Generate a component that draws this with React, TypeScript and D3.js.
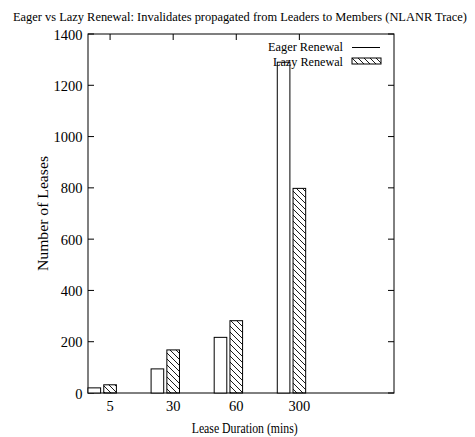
import React from "react";
import * as d3 from "d3";

const categories = ["5", "30", "60", "300"];
const eagerValues = [20, 94, 217, 1290];
const lazyValues = [32, 168, 282, 798];
const yTicks = [0, 200, 400, 600, 800, 1000, 1200, 1400];

const W = 475;
const H = 437;
const margin = { left: 88, right: 81, top: 34, bottom: 44 };
const FONT = "'Liberation Serif', 'Times New Roman', serif";

export default function App() {
  const x0 = margin.left;
  const x1 = W - margin.right;
  const y0 = H - margin.bottom;
  const y1 = margin.top;

  const x = d3.scaleLinear().domain([-0.35, 4.5]).range([x0, x1]);
  const y = d3.scaleLinear().domain([0, 1400]).range([y0, y1]);
  const barW = x(0.2) - x(0);
  const tickLen = 6;

  return (
    <svg width={W} height={H} style={{ position: "absolute", left: 0, top: 0, background: "#fff" }}>
      <defs>
        <pattern id="hatch" patternUnits="userSpaceOnUse" width={6} height={6}>
          <path d="M0,0 L6,6 M-1,5 L1,7 M5,-1 L7,1" stroke="#000" strokeWidth={0.9} />
        </pattern>
      </defs>
      <text
        x={240}
        y={20.5}
        textAnchor="middle"
        fontFamily={FONT}
        fontSize={12.3}
        textLength={454}
        lengthAdjust="spacingAndGlyphs"
        fill="#000"
      >
        Eager vs Lazy Renewal: Invalidates propagated from Leaders to Members (NLANR Trace)
      </text>

      {/* frame */}
      <rect x={x0} y={y1} width={x1 - x0} height={y0 - y1} fill="none" stroke="#000" strokeWidth={1} />

      {/* y ticks, left and right mirrored */}
      {yTicks.map((t) => (
        <g key={t}>
          <line x1={x0} x2={x0 + tickLen} y1={y(t)} y2={y(t)} stroke="#000" />
          <line x1={x1} x2={x1 - tickLen} y1={y(t)} y2={y(t)} stroke="#000" />
          <text x={82.5} y={y(t) + 5.5} textAnchor="end" fontFamily={FONT} fontSize={14.5} fill="#000">
            {t}
          </text>
        </g>
      ))}

      {/* x ticks on the top edge and category labels */}
      {categories.map((c, i) => (
        <g key={c}>
          <line x1={x(i)} x2={x(i)} y1={y1} y2={y1 + tickLen} stroke="#000" />
          <text x={x(i)} y={y0 + 18} textAnchor="middle" fontFamily={FONT} fontSize={14.5} fill="#000">
            {c}
          </text>
        </g>
      ))}

      {/* bars */}
      {categories.map((c, i) => (
        <g key={"b" + c}>
          <rect
            x={x(i - 0.25) - barW / 2}
            y={y(eagerValues[i])}
            width={barW}
            height={y0 - y(eagerValues[i])}
            fill="#fff"
            stroke="#000"
            strokeWidth={1}
          />
          <rect
            x={x(i) - barW / 2}
            y={y(lazyValues[i])}
            width={barW}
            height={y0 - y(lazyValues[i])}
            fill="url(#hatch)"
            stroke="#000"
            strokeWidth={1}
          />
        </g>
      ))}

      {/* legend */}
      <text
        x={343}
        y={50.5}
        textAnchor="end"
        fontFamily={FONT}
        fontSize={13.5}
        textLength={75}
        lengthAdjust="spacingAndGlyphs"
        fill="#000"
      >
        Eager Renewal
      </text>
      <line x1={352} x2={380} y1={47.5} y2={47.5} stroke="#000" />
      <text
        x={343}
        y={65.5}
        textAnchor="end"
        fontFamily={FONT}
        fontSize={13.5}
        textLength={70}
        lengthAdjust="spacingAndGlyphs"
        fill="#000"
      >
        Lazy Renewal
      </text>
      <rect x={352} y={58} width={29} height={6} fill="url(#hatch)" stroke="#000" />

      {/* axis titles */}
      <text
        x={244.7}
        y={433}
        textAnchor="middle"
        fontFamily={FONT}
        fontSize={14.5}
        textLength={106}
        lengthAdjust="spacingAndGlyphs"
        fill="#000"
      >
        Lease Duration (mins)
      </text>
      <text
        transform={`translate(48,213.5) rotate(-90)`}
        textAnchor="middle"
        fontFamily={FONT}
        fontSize={14.5}
        textLength={115}
        lengthAdjust="spacingAndGlyphs"
        fill="#000"
      >
        Number of Leases
      </text>
    </svg>
  );
}
